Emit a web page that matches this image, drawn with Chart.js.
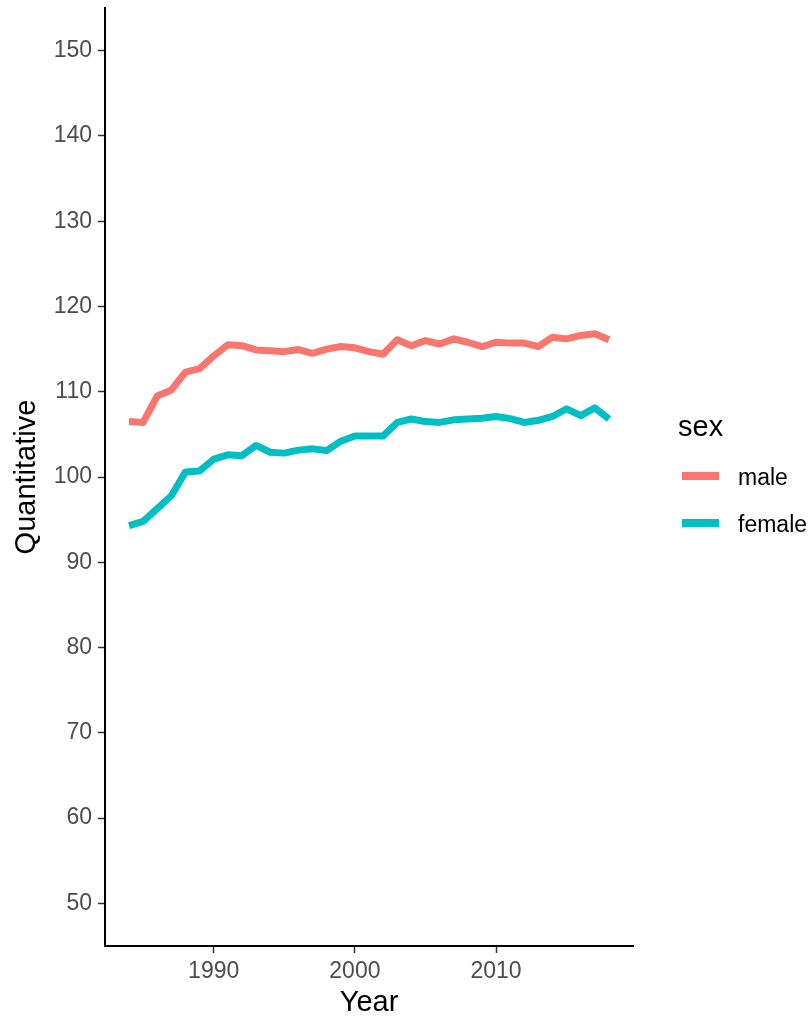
<!DOCTYPE html>
<html>
<head>
<meta charset="utf-8">
<script src="https://cdn.jsdelivr.net/npm/chart.js@4.4.0/dist/chart.umd.min.js"></script>
<style>
  html, body { margin: 0; padding: 0; background: #ffffff; }
  #wrap { width: 810px; height: 1017px; }
</style>
</head>
<body>
<div id="wrap"><canvas id="chart-quant" width="810" height="1017"></canvas></div>
<script>
// ==================================================
// DATA
// ==================================================
const years = [
  1984, 1985, 1986, 1987, 1988, 1989, 1990, 1991, 1992, 1993, 1994, 1995,
  1996, 1997, 1998, 1999, 2000, 2001, 2002, 2003, 2004, 2005, 2006, 2007,
  2008, 2009, 2010, 2011, 2012, 2013, 2014, 2015, 2016, 2017, 2018,
];
const male = [
  106.5, 106.4, 109.5, 110.2, 112.3, 112.7, 114.2, 115.5, 115.4, 114.9, 114.8, 114.7,
  114.95, 114.5, 115.0, 115.3, 115.15, 114.7, 114.4, 116.1, 115.4, 116.0, 115.6, 116.2,
  115.8, 115.3, 115.8, 115.7, 115.7, 115.3, 116.4, 116.2, 116.6, 116.8, 116.1,
];
const female = [
  94.3, 94.8, 96.3, 97.8, 100.6, 100.7, 102.1, 102.6, 102.5, 103.7, 102.9, 102.8,
  103.15, 103.3, 103.1, 104.2, 104.8, 104.8, 104.8, 106.4, 106.8, 106.5, 106.4, 106.7,
  106.8, 106.9, 107.1, 106.85, 106.4, 106.65, 107.1, 108.0, 107.2, 108.1, 106.8,
];
const seriesNames = ["male", "female"];
const xTicks = [1990, 2000, 2010];
const yTicks = [50, 60, 70, 80, 90, 100, 110, 120, 130, 140, 150];

// ==================================================
// HELPERS
// ==================================================
const toPoints = (values) => {
  return values.map((v, i) => ({ x: years[i], y: v }));
};

const FONT = "'Liberation Sans', Arial, sans-serif";
const colors = ["#F8766D", "#00BFC4"];

// legend drawn the ggplot way: title, then key line + label
const sexLegend = {
  id: "sexLegend",
  afterDraw(chart) {
    const ctx = chart.ctx;
    ctx.save();
    ctx.fillStyle = "#000000";
    ctx.textAlign = "left";
    ctx.textBaseline = "alphabetic";
    ctx.font = "29px " + FONT;
    ctx.fillText("sex", 678, 436);

    chart.data.datasets.forEach((ds, i) => {
      const cy = 476 + i * 47;
      ctx.strokeStyle = ds.borderColor;
      ctx.lineWidth = 8;
      ctx.lineCap = "butt";
      ctx.beginPath();
      ctx.moveTo(682, cy);
      ctx.lineTo(719, cy);
      ctx.stroke();
      ctx.fillStyle = "#000000";
      ctx.font = "23px " + FONT;
      ctx.fillText(ds.label, 738, cy + 9);
    });
    ctx.restore();
  },
};

// ==================================================
// CHART
// ==================================================
const ctx = document.getElementById("chart-quant").getContext("2d");

const quantChart = new Chart(ctx, {
  type: "line",
  data: {
    datasets: [
      {
        label: seriesNames[0],
        data: toPoints(male),
        borderColor: colors[0],
        backgroundColor: colors[0],
        borderWidth: 7,
        borderJoinStyle: "round",
        borderCapStyle: "butt",
        pointRadius: 0,
        tension: 0,
        fill: false,
      },
      {
        label: seriesNames[1],
        data: toPoints(female),
        borderColor: colors[1],
        backgroundColor: colors[1],
        borderWidth: 7,
        borderJoinStyle: "round",
        borderCapStyle: "butt",
        pointRadius: 0,
        tension: 0,
        fill: false,
      },
    ],
  },
  options: {
    responsive: false,
    animation: false,
    layout: { padding: { left: 12, right: 177, top: 8, bottom: 0 } },
    plugins: {
      legend: { display: false },
      tooltip: { enabled: false },
    },
    scales: {
      x: {
        type: "linear",
        min: 1982.3,
        max: 2019.7,
        afterBuildTicks: (scale) => {
          scale.ticks = xTicks.map((v) => ({ value: v }));
        },
        afterFit: (scale) => {
          scale.height = 71;
          scale.paddingLeft = 0;
          scale.paddingRight = 0;
        },
        border: { display: true, color: "#000000", width: 2 },
        grid: {
          display: true,
          drawOnChartArea: false,
          drawTicks: true,
          tickLength: 7,
          tickColor: "#333333",
          tickWidth: 1.5,
        },
        ticks: {
          color: "#4D4D4D",
          padding: 5,
          maxRotation: 0,
          font: { family: FONT, size: 23 },
          callback: (value) => String(value),
        },
        title: {
          display: true,
          text: "Year",
          color: "#000000",
          font: { family: FONT, size: 29, lineHeight: 0.95 },
          padding: 0,
        },
      },
      y: {
        type: "linear",
        min: 45,
        max: 155,
        afterBuildTicks: (scale) => {
          scale.ticks = yTicks.map((v) => ({ value: v }));
        },
        afterFit: (scale) => {
          scale.width = 93;
          scale.paddingTop = 0;
          scale.paddingBottom = 0;
        },
        border: { display: true, color: "#000000", width: 2 },
        grid: {
          display: true,
          drawOnChartArea: false,
          drawTicks: true,
          tickLength: 7,
          tickColor: "#333333",
          tickWidth: 1.5,
        },
        ticks: {
          color: "#4D4D4D",
          padding: 6,
          font: { family: FONT, size: 23 },
          callback: (value) => String(value),
        },
        title: {
          display: true,
          text: "Quantitative",
          color: "#000000",
          font: { family: FONT, size: 29, lineHeight: 1 },
          padding: 0,
        },
      },
    },
  },
  plugins: [sexLegend],
});
</script>
</body>
</html>
